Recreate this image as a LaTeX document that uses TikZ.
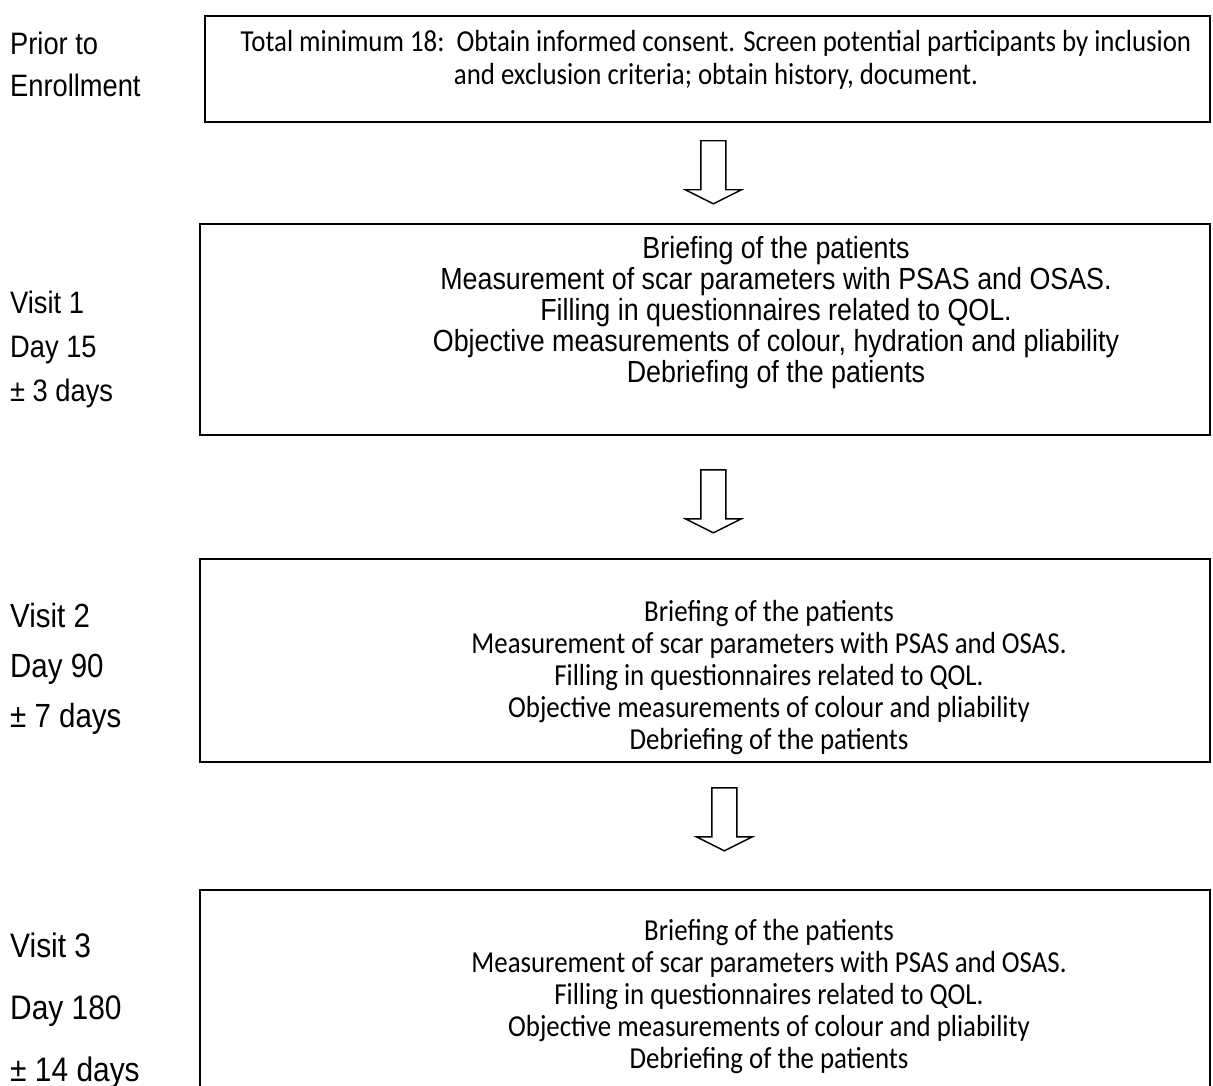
\documentclass[tikz,border=0pt]{standalone}
\usepackage{fontspec}
\setmainfont{Carlito}[FakeStretch=0.88]
\newfontfamily\arialfont[FakeStretch=0.88]{Liberation Sans}
\usetikzlibrary{positioning,calc}
\tikzset{
    every node/.style={inner sep=0pt},
    stagebox/.style={draw,line width=1.8pt,anchor=north west},
    boxtext/.style={align=center,anchor=base,font=\fontsize{30.5}{32}\selectfont},
    boxtextsans/.style={align=center,anchor=base,font=\arialfont\fontsize{30.5}{31}\selectfont},
    timelabel/.style={align=left,anchor=base west},
    hollow/.style={draw,line width=1.4pt,fill=white,line join=miter}
}

\begin{document}
\begin{tikzpicture}[x=1pt,y=-1pt]
    \clip (0,0) rectangle (1213,1086);
    % stage boxes
    \node[stagebox,minimum width=1005pt,minimum height=106pt] (prior) at (204,15) {};
    \node[stagebox,minimum width=1010pt,minimum height=211pt] (visit1) at (199,223) {};
    \node[stagebox,minimum width=1010pt,minimum height=203pt] (visit2) at (199,558) {};
    \node[stagebox,minimum width=1010pt,minimum height=240pt] (visit3) at (199,889) {};
    % box contents (base = last line)
    \node[boxtext,font=\fontsize{30.5}{33}\selectfont] (priortxt) at (716,85) {Total minimum 18:\ \ Obtain informed consent. Screen potential participants by inclusion\\and exclusion criteria; obtain history, document.};
    \node[boxtextsans] (visit1txt) at (776,382) {Briefing of the patients\\Measurement of scar parameters with PSAS and OSAS.\\Filling in questionnaires related to QOL.\\Objective measurements of colour, hydration and pliability\\Debriefing of the patients};
    \node[boxtext] (visit2txt) at (769,749) {Briefing of the patients\\Measurement of scar parameters with PSAS and OSAS.\\Filling in questionnaires related to QOL.\\Objective measurements of colour and pliability\\Debriefing of the patients};
    \node[boxtext] (visit3txt) at (769,1068) {Briefing of the patients\\Measurement of scar parameters with PSAS and OSAS.\\Filling in questionnaires related to QOL.\\Objective measurements of colour and pliability\\Debriefing of the patients};
    % time labels
    \node[timelabel,font=\arialfont\fontsize{31}{42}\selectfont] (priorlbl) at (10,97) {Prior to\\Enrollment};
    \node[timelabel,font=\arialfont\fontsize{31}{44}\selectfont] (visit1lbl) at (10,401) {Visit 1\\Day 15\\± 3 days};
    \node[timelabel,font=\arialfont\fontsize{33.5}{50}\selectfont] (visit2lbl) at (10,727) {Visit 2\\Day 90\\± 7 days};
    \node[timelabel,font=\arialfont\fontsize{34}{62}\selectfont] (visit3lbl) at (10,1081) {Visit 3\\Day 180\\± 14 days};
    % hollow arrows between the stages
    \foreach \a/\b/\dx/\gap in {prior/visit1/6/18,visit1/visit2/8.5/34,visit2/visit3/19.5/25}{
        \coordinate (\a top) at ($(\a.south)+(\dx,\gap)$);
        \coordinate (\a tip) at ($(\a top)+(0,63)$);
        \draw[hollow] ($(\a top)+(-12.5,0)$) -- ($(\a top)+(12.5,0)$) -- ($(\a tip)+(12.5,-14)$) -- ($(\a tip)+(28,-14)$)
            -- (\a tip) -- ($(\a tip)+(-28,-14)$) -- ($(\a tip)+(-12.5,-14)$) -- cycle;
    }
\end{tikzpicture}
\end{document}
